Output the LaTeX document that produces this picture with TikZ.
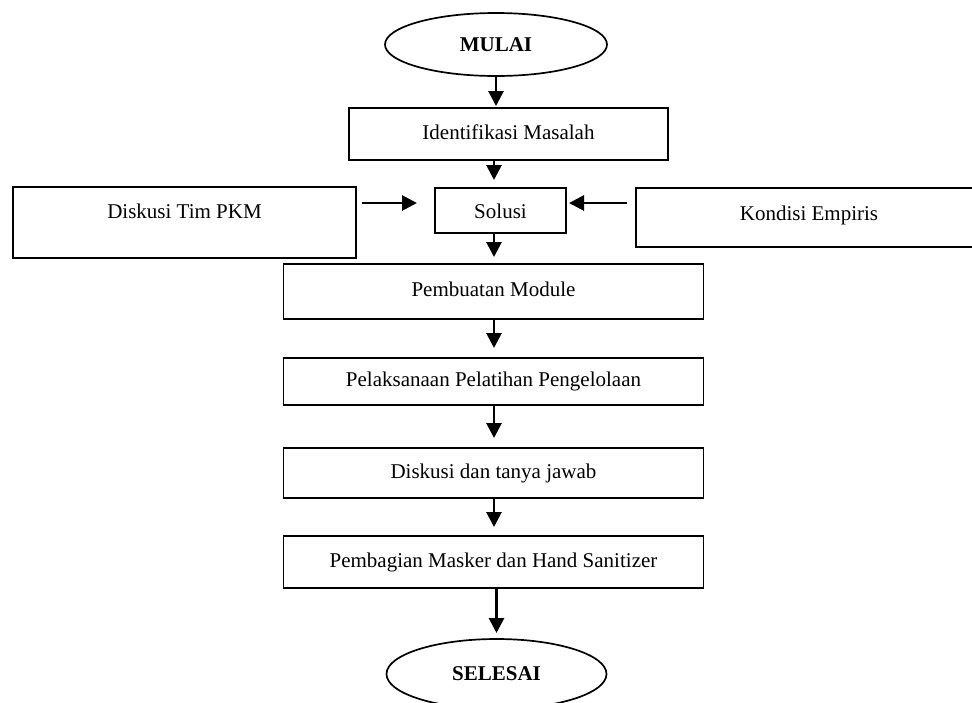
\documentclass[tikz,border=0pt]{standalone}
\usepackage{fontspec}
\setmainfont{Liberation Serif}
\usepackage{tikz}
\usetikzlibrary{positioning,shapes.geometric,arrows.meta}
\definecolor{fcink}{HTML}{000000}
\tikzset{
  box/.style={draw=fcink,line width=1.7pt,outer sep=0pt,inner sep=0pt,minimum height=50pt,align=center,font=\fontsize{21}{25}\selectfont,text height=15pt,text depth=5pt},
  wide/.style={box,minimum width=420pt},
  term/.style={ellipse,draw=fcink,line width=1.7pt,outer sep=0pt,inner sep=0pt,minimum width=222pt,minimum height=63pt,font=\fontsize{21}{25}\selectfont\bfseries},
  lnk/.style={-{Triangle[length=15pt,width=15pt]},line width=2.8pt,draw=fcink},
}
\begin{document}
\begin{tikzpicture}[x=1pt,y=-1pt,node distance=30pt and 70pt]
  \fill[white] (0,0) rectangle (972,702);
  \useasboundingbox (0,0) rectangle (972,702);
  \node[term] (mulai) at (496,44.5) {MULAI};
  \node[box,minimum width=319pt,minimum height=52pt,below=32pt of mulai,xshift=12.5pt] (idm) {Identifikasi Masalah};
  \node[box,minimum width=131pt,minimum height=45pt,text height=21pt,below=28pt of idm,xshift=-8pt] (sol) {Solusi};
  \node[box,minimum width=343pt,minimum height=71pt,text depth=24pt,left=79pt of sol,yshift=-12pt] (tim) {Diskusi Tim PKM};
  \node[box,minimum width=346pt,minimum height=59pt,text depth=10pt,right=70pt of sol,yshift=-7pt] (kon) {Kondisi Empiris};
  \node[wide,minimum height=55pt,below=31pt of sol,xshift=-7pt] (mod) {Pembuatan Module};
  \node[wide,minimum height=47pt,below=39pt of mod] (pel) {Pelaksanaan Pelatihan Pengelolaan};
  \node[wide,minimum height=50pt,below=43pt of pel] (dis) {Diskusi dan tanya jawab};
  \node[wide,minimum height=52pt,below=38pt of dis] (bag) {Pembagian Masker dan Hand Sanitizer};
  \node[term,minimum width=220pt,minimum height=70pt,below=51pt of bag,xshift=3pt] (sls) {SELESAI};
  % arrows down the middle
  \coordinate (axis) at (494,0);
  \coordinate (row) at (0,203);
  \draw[lnk,shorten >=2pt](mulai.south)--(mulai.south|-idm.north);
  \draw[lnk,shorten >=8pt](idm.south-|axis)--(sol.north-|axis);
  \draw[lnk,shorten >=7pt](sol.south-|axis)--(mod.north-|axis);
  \draw[lnk,shorten >=10pt](mod.south-|axis)--(pel.north-|axis);
  \draw[lnk,shorten >=10pt](pel.south-|axis)--(dis.north-|axis);
  \draw[lnk,shorten >=9pt](dis.south-|axis)--(bag.north-|axis);
  \draw[lnk,shorten >=6pt](bag.south-|sls.north)--(sls.north);
  % side inputs
  \draw[lnk,shorten <=6pt,shorten >=18pt](tim.east|-row)--(sol.west|-row);
  \draw[lnk,shorten <=9pt,shorten >=3pt](kon.west|-row)--(sol.east|-row);
\end{tikzpicture}
\end{document}
